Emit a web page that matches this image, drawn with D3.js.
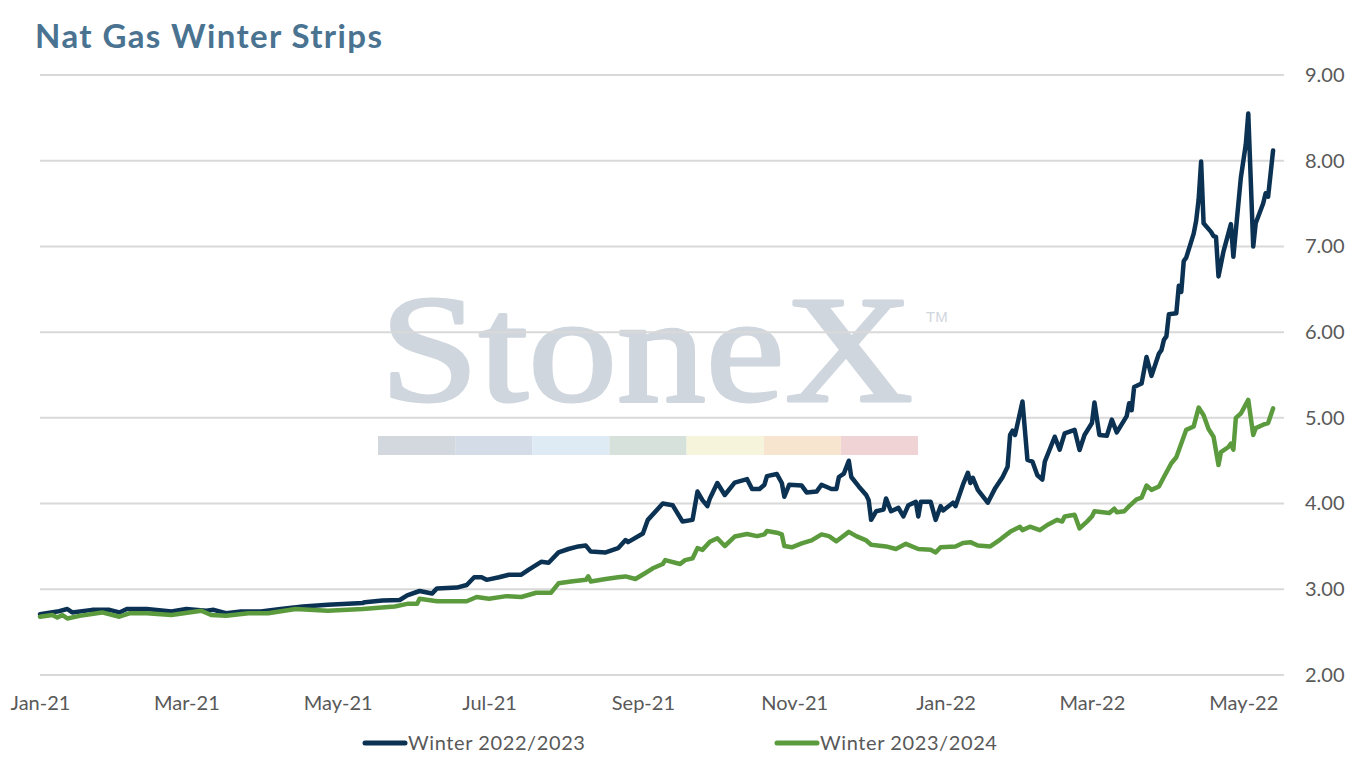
<!DOCTYPE html>
<html>
<head>
<meta charset="utf-8">
<script src="https://cdn.jsdelivr.net/npm/d3@7"></script>
<style>
  html, body { margin: 0; padding: 0; background: #ffffff; }
  svg { display: block; }
</style>
</head>
<body>
<svg id="chart" width="1351" height="765"></svg>
<script>
// ---------------- DATA ----------------
const title = "Nat Gas Winter Strips";
const seriesNames = ["Winter 2022/2023", "Winter 2023/2024"];
const yTicks = [2, 3, 4, 5, 6, 7, 8, 9];
const xTickDates = ["2021-01-01","2021-03-01","2021-05-01","2021-07-01","2021-09-01","2021-11-01","2022-01-01","2022-03-01","2022-05-01"];

const winter2223 = [
  ["2021-01-01",2.71],["2021-01-08",2.74],["2021-01-12",2.77],["2021-01-14",2.73],["2021-01-22",2.76],
  ["2021-01-29",2.76],["2021-02-02",2.73],["2021-02-05",2.77],["2021-02-13",2.77],["2021-02-23",2.74],
  ["2021-03-01",2.77],["2021-03-09",2.75],["2021-03-12",2.76],["2021-03-17",2.72],["2021-03-23",2.74],
  ["2021-03-31",2.74],["2021-04-08",2.77],["2021-04-17",2.80],["2021-04-27",2.82],["2021-05-11",2.84],
  ["2021-05-12",2.85],["2021-05-19",2.87],["2021-05-26",2.875],["2021-05-29",2.93],["2021-06-03",2.98],
  ["2021-06-08",2.95],["2021-06-10",3.01],["2021-06-18",3.02],["2021-06-22",3.05],["2021-06-25",3.14],
  ["2021-06-28",3.14],["2021-06-30",3.11],["2021-07-05",3.14],["2021-07-09",3.17],["2021-07-14",3.17],
  ["2021-07-17",3.23],["2021-07-22",3.32],["2021-07-25",3.31],["2021-07-29",3.43],["2021-08-02",3.47],
  ["2021-08-06",3.50],["2021-08-09",3.51],["2021-08-11",3.44],["2021-08-17",3.43],["2021-08-22",3.48],
  ["2021-08-25",3.575],["2021-08-26",3.55],["2021-09-01",3.65],["2021-09-03",3.81],["2021-09-09",4.00],
  ["2021-09-13",3.98],["2021-09-17",3.79],["2021-09-21",3.81],["2021-09-23",4.14],["2021-09-25",4.04],
  ["2021-09-27",3.97],["2021-09-28",4.06],["2021-10-01",4.24],["2021-10-04",4.10],["2021-10-08",4.245],
  ["2021-10-13",4.285],["2021-10-15",4.17],["2021-10-18",4.17],["2021-10-20",4.22],["2021-10-21",4.32],
  ["2021-10-25",4.345],["2021-10-27",4.24],["2021-10-28",4.08],["2021-10-30",4.22],["2021-11-04",4.21],
  ["2021-11-06",4.13],["2021-11-10",4.14],["2021-11-12",4.22],["2021-11-16",4.17],["2021-11-18",4.17],
  ["2021-11-19",4.31],["2021-11-21",4.35],["2021-11-23",4.50],["2021-11-24",4.31],["2021-11-27",4.20],
  ["2021-11-30",4.10],["2021-12-01",4.04],["2021-12-02",3.81],["2021-12-04",3.91],["2021-12-07",3.93],
  ["2021-12-08",4.06],["2021-12-10",3.91],["2021-12-13",3.95],["2021-12-15",3.85],["2021-12-17",3.98],
  ["2021-12-20",4.02],["2021-12-21",3.85],["2021-12-22",4.02],["2021-12-26",4.02],["2021-12-28",3.81],
  ["2021-12-30",3.97],["2021-12-31",3.92],["2022-01-04",4.01],["2022-01-05",3.97],["2022-01-08",4.22],
  ["2022-01-10",4.36],["2022-01-11",4.24],["2022-01-12",4.30],["2022-01-14",4.16],["2022-01-18",4.01],
  ["2022-01-21",4.18],["2022-01-24",4.31],["2022-01-26",4.43],["2022-01-27",4.80],["2022-01-28",4.85],
  ["2022-01-29",4.80],["2022-02-01",5.19],["2022-02-03",4.51],["2022-02-05",4.49],["2022-02-07",4.33],
  ["2022-02-09",4.28],["2022-02-10",4.49],["2022-02-14",4.78],["2022-02-16",4.63],["2022-02-18",4.82],
  ["2022-02-22",4.86],["2022-02-24",4.625],["2022-02-26",4.80],["2022-03-01",4.94],["2022-03-02",5.18],
  ["2022-03-04",4.80],["2022-03-07",4.79],["2022-03-09",4.98],["2022-03-11",4.83],["2022-03-15",5.02],
  ["2022-03-16",5.17],["2022-03-17",5.09],["2022-03-18",5.36],["2022-03-21",5.40],["2022-03-23",5.71],
  ["2022-03-25",5.49],["2022-03-28",5.75],["2022-03-29",5.79],["2022-03-30",5.91],["2022-03-31",5.95],
  ["2022-04-01",6.21],["2022-04-04",6.22],["2022-04-05",6.54],["2022-04-06",6.47],["2022-04-07",6.83],
  ["2022-04-08",6.87],["2022-04-11",7.15],["2022-04-12",7.30],["2022-04-13",7.55],["2022-04-14",7.99],
  ["2022-04-15",7.27],["2022-04-18",7.17],["2022-04-19",7.12],["2022-04-20",7.11],["2022-04-21",6.65],
  ["2022-04-23",6.94],["2022-04-26",7.26],["2022-04-27",6.88],["2022-04-30",7.80],["2022-05-02",8.19],
  ["2022-05-03",8.55],["2022-05-05",7.00],["2022-05-06",7.27],["2022-05-09",7.50],["2022-05-10",7.62],
  ["2022-05-11",7.58],["2022-05-13",8.12]
];

const winter2324 = [
  ["2021-01-01",2.68],["2021-01-06",2.70],["2021-01-08",2.67],["2021-01-10",2.70],["2021-01-12",2.66],
  ["2021-01-17",2.69],["2021-01-26",2.73],["2021-02-02",2.68],["2021-02-06",2.72],["2021-02-13",2.72],
  ["2021-02-23",2.70],["2021-03-07",2.75],["2021-03-11",2.70],["2021-03-17",2.69],["2021-03-26",2.72],
  ["2021-04-03",2.72],["2021-04-14",2.77],["2021-04-27",2.75],["2021-05-11",2.77],["2021-05-24",2.80],
  ["2021-05-29",2.83],["2021-06-02",2.83],["2021-06-03",2.89],["2021-06-10",2.86],["2021-06-22",2.86],
  ["2021-06-26",2.91],["2021-07-01",2.89],["2021-07-08",2.92],["2021-07-14",2.91],["2021-07-20",2.96],
  ["2021-07-26",2.96],["2021-07-29",3.07],["2021-08-03",3.09],["2021-08-09",3.11],["2021-08-10",3.15],
  ["2021-08-11",3.09],["2021-08-17",3.12],["2021-08-22",3.14],["2021-08-25",3.15],["2021-08-29",3.12],
  ["2021-09-02",3.19],["2021-09-05",3.245],["2021-09-09",3.295],["2021-09-10",3.34],["2021-09-16",3.295],
  ["2021-09-18",3.34],["2021-09-21",3.36],["2021-09-23",3.48],["2021-09-25",3.46],["2021-09-28",3.555],
  ["2021-10-01",3.595],["2021-10-04",3.505],["2021-10-08",3.615],["2021-10-13",3.645],["2021-10-17",3.62],
  ["2021-10-20",3.64],["2021-10-21",3.68],["2021-10-25",3.66],["2021-10-27",3.64],["2021-10-28",3.505],
  ["2021-10-31",3.49],["2021-11-04",3.535],["2021-11-08",3.57],["2021-11-12",3.64],["2021-11-15",3.62],
  ["2021-11-18",3.56],["2021-11-23",3.67],["2021-11-26",3.62],["2021-11-30",3.57],["2021-12-02",3.52],
  ["2021-12-08",3.50],["2021-12-12",3.47],["2021-12-16",3.53],["2021-12-21",3.47],["2021-12-26",3.46],
  ["2021-12-28",3.43],["2021-12-30",3.49],["2022-01-05",3.50],["2022-01-08",3.54],["2022-01-11",3.55],
  ["2022-01-14",3.51],["2022-01-19",3.50],["2022-01-23",3.58],["2022-01-27",3.67],["2022-01-31",3.73],
  ["2022-02-01",3.69],["2022-02-04",3.73],["2022-02-08",3.69],["2022-02-11",3.75],["2022-02-15",3.81],
  ["2022-02-17",3.79],["2022-02-18",3.85],["2022-02-22",3.87],["2022-02-24",3.71],["2022-02-27",3.79],
  ["2022-03-01",3.85],["2022-03-02",3.91],["2022-03-08",3.89],["2022-03-10",3.94],["2022-03-11",3.90],
  ["2022-03-14",3.91],["2022-03-16",3.97],["2022-03-19",4.05],["2022-03-21",4.07],["2022-03-23",4.21],
  ["2022-03-25",4.16],["2022-03-28",4.20],["2022-03-30",4.31],["2022-04-02",4.47],["2022-04-04",4.54],
  ["2022-04-06",4.70],["2022-04-08",4.86],["2022-04-11",4.90],["2022-04-13",5.12],["2022-04-15",5.03],
  ["2022-04-17",4.87],["2022-04-19",4.78],["2022-04-21",4.45],["2022-04-22",4.60],["2022-04-25",4.66],
  ["2022-04-26",4.70],["2022-04-27",4.63],["2022-04-28",5.00],["2022-04-30",5.05],["2022-05-03",5.21],
  ["2022-05-05",4.80],["2022-05-06",4.88],["2022-05-09",4.92],["2022-05-11",4.94],["2022-05-13",5.11]
];

const seriesColors = ["#0c3253", "#5b9b3e"];
const watermarkBarColors = ["#d3d8df","#d4dde7","#deeaf4","#d5e1da","#f6f5dc","#f8e5d0","#efd3d5"];

// ---------------- CHART ----------------
const parse = d3.timeParse("%Y-%m-%d");
const svg = d3.select("#chart");
const plotLeft = 40, plotRight = 1284, plotTop = 75, plotBottom = 675;

const x = d3.scaleTime()
  .domain([parse("2021-01-01"), parse("2022-05-17")])
  .range([plotLeft, plotRight - 1]);
const y = d3.scaleLinear().domain([2, 9]).range([plotBottom, plotTop]);

const textGray = "#595959";
const font = "Lato, 'Open Sans', sans-serif";

// Title
svg.append("text")
  .attr("x", 35).attr("y", 48)
  .attr("font-family", font)
  .attr("font-weight", 700)
  .attr("font-size", 33)
  .attr("textLength", 347)
  .attr("lengthAdjust", "spacing")
  .attr("fill", "#4a7391")
  .text(title);

// Watermark
const wm = svg.append("g").attr("class", "watermark");
const wmText = wm.append("text")
  .attr("x", 0).attr("y", 0)
  .attr("font-family", "'Liberation Serif', 'DejaVu Serif', serif")
  .attr("font-size", 152)
  .attr("fill", "#d0d6de")
  .text("StoneX");
const wmWidth = wmText.node().getComputedTextLength() || 456;
wmText.attr("transform", `translate(380,401) scale(${533 / wmWidth},1)`)
  .attr("stroke", "#d0d6de").attr("stroke-width", 3).attr("stroke-linejoin", "round");
wm.append("text")
  .attr("x", 926).attr("y", 322)
  .attr("font-family", "'Liberation Sans', Arial, sans-serif")
  .attr("font-size", 15)
  .attr("fill", "#d0d6de")
  .text("TM");
const barX = d3.scaleBand().domain(d3.range(watermarkBarColors.length)).range([378, 918]);
wm.selectAll("rect").data(watermarkBarColors).join("rect")
  .attr("x", (d, i) => barX(i)).attr("y", 436)
  .attr("width", barX.bandwidth()).attr("height", 19)
  .attr("fill", d => d);

// Gridlines + right axis
const yAxis = d3.axisRight(y)
  .tickValues(yTicks)
  .tickFormat(d3.format(".2f"))
  .tickSize(0)
  .tickPadding(21);
const gy = svg.append("g").attr("transform", `translate(${plotRight},0)`).call(yAxis);
gy.select(".domain").remove();
gy.selectAll(".tick text")
  .attr("font-family", font).attr("font-size", 20).attr("fill", textGray);
svg.append("g").selectAll("line").data(yTicks).join("line")
  .attr("x1", plotLeft).attr("x2", plotRight)
  .attr("y1", d => y(d)).attr("y2", d => y(d))
  .attr("stroke", "#d9d9d9").attr("stroke-width", 2);

// X axis
const xAxis = d3.axisBottom(x)
  .tickValues(xTickDates.map(parse))
  .tickFormat(d3.timeFormat("%b-%y"))
  .tickSize(0)
  .tickPadding(0);
const gx = svg.append("g").attr("transform", `translate(0,${plotBottom + 20})`).call(xAxis);
gx.select(".domain").remove();
gx.selectAll(".tick text")
  .attr("font-family", font).attr("font-size", 20).attr("fill", textGray)
  .attr("dy", "0.75em").attr("y", 0);

// Lines
const line = d3.line()
  .x(d => x(parse(d[0])))
  .y(d => y(d[1]));
const allSeries = [winter2223, winter2324];
svg.append("g").selectAll("path").data(allSeries).join("path")
  .attr("d", d => line(d))
  .attr("fill", "none")
  .attr("stroke", (d, i) => seriesColors[i])
  .attr("stroke-width", 4.5)
  .attr("stroke-linejoin", "round")
  .attr("stroke-linecap", "round");

// Legend
const legendX = [363, 775];
const lg = svg.append("g").selectAll("g").data(seriesNames).join("g")
  .attr("transform", (d, i) => `translate(${legendX[i]},743)`);
lg.append("line")
  .attr("x1", 2).attr("x2", 42).attr("y1", 0).attr("y2", 0)
  .attr("stroke", (d, i) => seriesColors[i])
  .attr("stroke-width", 5).attr("stroke-linecap", "round");
lg.append("text")
  .attr("x", 45).attr("y", 0).attr("dy", "0.35em")
  .attr("font-family", font).attr("font-size", 20).attr("fill", textGray)
  .attr("letter-spacing", 0.6)
  .text(d => d);
</script>
</body>
</html>
